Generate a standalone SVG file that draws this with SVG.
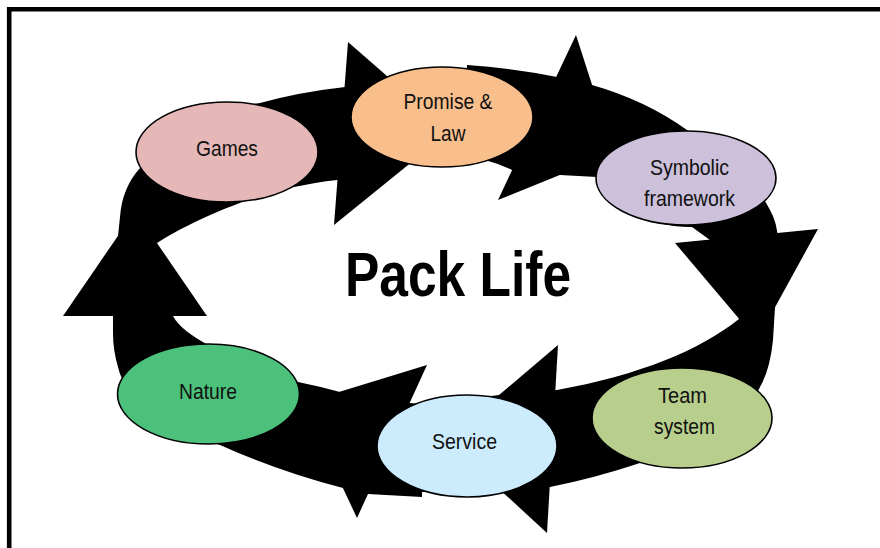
<svg xmlns="http://www.w3.org/2000/svg" width="880" height="548" viewBox="0 0 880 548">
<style>
.node{stroke:#000;stroke-width:1.6}
.lbl{font-family:"Liberation Sans",Arial,sans-serif;font-size:22px;fill:#111;text-anchor:middle}
.title{font-family:"Liberation Sans",Arial,sans-serif;font-size:63px;font-weight:bold;fill:#000;text-anchor:middle}
.arrow{fill:#000;stroke:none}
</style>
<rect width="880" height="548" fill="#fff"/>
<path d="M9.2,548 V9.2 H880" fill="none" stroke="#000" stroke-width="4.6"/>
<g id="connectors">
<path class="arrow" fill-rule="evenodd" d="M113,316 L116,260 L118,236 L120,217 Q122,188 140,168 C152,140 200,112 260,103 Q300,92 345,87 Q405,70 467,70 L467,65 Q512,68 557,77 L592,85 Q645,100 687,130 C720,150 755,180 770,210 Q777,222 778,240 L775,307 L773,340 Q770,370 760,387 C745,420 700,450 640,463 Q595,478 550,487 Q480,492 422,492 L422,497 L368,494 L343,488 Q280,472 220,445 C170,430 125,400 118,367 Q113,350 113,333 Z M173,316 L160,280 L157,243 C190,222 260,188 337,180 L380,170 L410,158 Q450,158 485,160 Q500,164 512,170 L560,175 L597,177 C610,212 660,228 692,227 L710,240 L739,319 C700,350 640,375 557,390 L520,392 Q470,400 420,404 L410,403 L340,392 Q318,386 298,382 C280,370 240,350 210,346 Q180,330 173,316 Z"/>
<polygon class="arrow" points="348,42 334,225 450,131"/>
<polygon class="arrow" points="576,35 498,200 614,153"/>
<polygon class="arrow" points="675,243 818,229 757,340"/>
<polygon class="arrow" points="558,345 547,533 446,440"/>
<polygon class="arrow" points="427,365 357,518 303,403"/>
<polygon class="arrow" points="63,316 207,316 135,211"/>
</g>
<g id="games">
<ellipse class="node" cx="227" cy="152" rx="91" ry="50" fill="#E5B8B7"/>
<text class="lbl" x="227" y="156" textLength="62" lengthAdjust="spacingAndGlyphs">Games</text>
</g>
<g id="promise-law">
<ellipse class="node" cx="442" cy="117" rx="91" ry="50" fill="#F8BF8C"/>
<text class="lbl" x="448" y="109" textLength="89" lengthAdjust="spacingAndGlyphs">Promise &amp;</text>
<text class="lbl" x="448" y="141" textLength="35" lengthAdjust="spacingAndGlyphs">Law</text>
</g>
<g id="symbolic-framework">
<ellipse class="node" cx="686" cy="178" rx="90" ry="47" fill="#CCC0DA"/>
<text class="lbl" x="689.5" y="175" textLength="79" lengthAdjust="spacingAndGlyphs">Symbolic</text>
<text class="lbl" x="689.5" y="206" textLength="91" lengthAdjust="spacingAndGlyphs">framework</text>
</g>
<g id="team-system">
<ellipse class="node" cx="682" cy="418" rx="90" ry="50" fill="#B8CE8C"/>
<text class="lbl" x="682.5" y="403" textLength="49" lengthAdjust="spacingAndGlyphs">Team</text>
<text class="lbl" x="684.5" y="434" textLength="61" lengthAdjust="spacingAndGlyphs">system</text>
</g>
<g id="service">
<ellipse class="node" cx="467" cy="446" rx="90" ry="51" fill="#CCECFD"/>
<text class="lbl" x="464.5" y="449" textLength="65" lengthAdjust="spacingAndGlyphs">Service</text>
</g>
<g id="nature">
<ellipse class="node" cx="208.5" cy="394" rx="91" ry="50" fill="#4CC17B"/>
<text class="lbl" x="208" y="399" textLength="58" lengthAdjust="spacingAndGlyphs">Nature</text>
</g>
<g id="title">
<text class="title" x="458" y="296" textLength="226" lengthAdjust="spacingAndGlyphs">Pack Life</text>
</g>
</svg>
